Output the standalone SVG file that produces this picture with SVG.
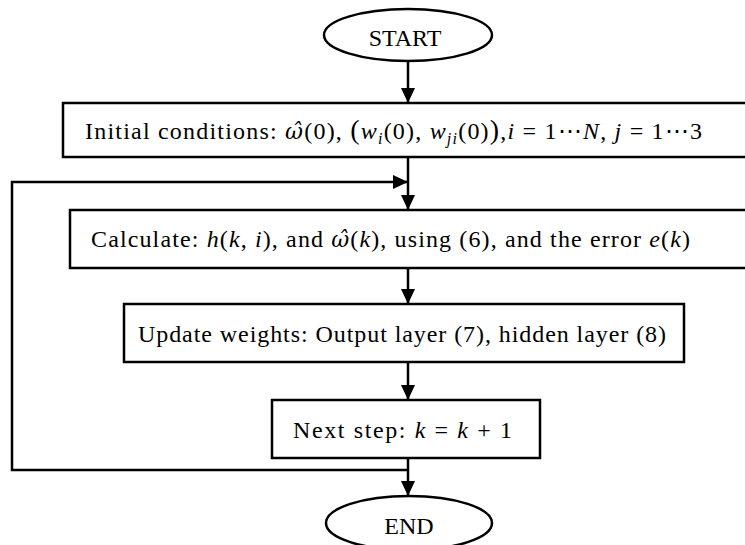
<svg xmlns="http://www.w3.org/2000/svg" width="745" height="545" viewBox="0 0 745 545">
<defs>
<marker id="ah" markerUnits="userSpaceOnUse" markerWidth="16" markerHeight="16" refX="15" refY="7" orient="auto">
<path d="M0,0 L15,7 L0,14 z" fill="#000"/>
</marker>
<style>
.box{fill:#fff;stroke:#000;stroke-width:2.5}
.term{fill:#fff;stroke:#000;stroke-width:2.5}
.ln{fill:none;stroke:#000;stroke-width:2.5}
.t{font-family:"Liberation Serif","Times New Roman",serif;font-size:24px;fill:#000}
.tt{font-family:"Liberation Serif","Times New Roman",serif;font-size:24px;fill:#000}
.i{font-style:italic}
.h{font-family:"DejaVu Serif",serif;font-style:italic;font-size:22px}
.s{font-size:16px;font-style:italic}
.p{font-size:28px}
</style>
</defs>
<rect width="745" height="545" fill="#fff"/>
<g id="connectors">
<line class="ln" x1="408" y1="61" x2="408" y2="103" marker-end="url(#ah)"/>
<line class="ln" x1="408" y1="157" x2="408" y2="210" marker-end="url(#ah)"/>
<path class="ln" d="M408,470 H12 V182 H408" marker-end="url(#ah)"/>
<line class="ln" x1="408" y1="268" x2="408" y2="304" marker-end="url(#ah)"/>
<line class="ln" x1="408" y1="362" x2="408" y2="400" marker-end="url(#ah)"/>
<line class="ln" x1="408" y1="458" x2="408" y2="496" marker-end="url(#ah)"/>
</g>
<g id="start">
<ellipse class="term" cx="408" cy="35" rx="84" ry="26"/>
<text class="tt" x="405" y="46" text-anchor="middle">START</text>
</g>
<g id="init">
<rect class="box" x="63" y="103" width="684" height="54"/>
<text class="t" x="85" y="139" textLength="617" lengthAdjust="spacing">Initial conditions: <tspan class="h">ω̂</tspan>(0), <tspan class="p">(</tspan><tspan class="i">w</tspan><tspan class="s" dy="5">i</tspan><tspan dy="-5">(0), </tspan><tspan class="i">w</tspan><tspan class="s" dy="5">ji</tspan><tspan dy="-5">(0)</tspan><tspan class="p">)</tspan>,<tspan class="i">i</tspan> = 1⋯<tspan class="i">N</tspan>, <tspan class="i">j</tspan> = 1⋯3</text>
</g>
<g id="calc">
<rect class="box" x="70" y="210" width="677" height="58"/>
<text class="t" x="91" y="247" textLength="599" lengthAdjust="spacing">Calculate: <tspan class="i">h</tspan>(<tspan class="i">k</tspan>, <tspan class="i">i</tspan>),  and <tspan class="h">ω̂</tspan>(<tspan class="i">k</tspan>), using (6), and the error  <tspan class="i">e</tspan>(<tspan class="i">k</tspan>)</text>
</g>
<g id="update">
<rect class="box" x="124" y="304" width="560" height="58"/>
<text class="t" x="138" y="342" textLength="528" lengthAdjust="spacing">Update weights: Output layer (7), hidden layer (8)</text>
</g>
<g id="next">
<rect class="box" x="272" y="400" width="268" height="58"/>
<text class="t" x="293" y="438" textLength="219" lengthAdjust="spacing">Next step:  <tspan class="i">k</tspan> = <tspan class="i">k</tspan> + 1</text>
</g>
<g id="end">
<ellipse class="term" cx="409" cy="523" rx="83" ry="27"/>
<text class="tt" x="409" y="534" text-anchor="middle">END</text>
</g>
</svg>
